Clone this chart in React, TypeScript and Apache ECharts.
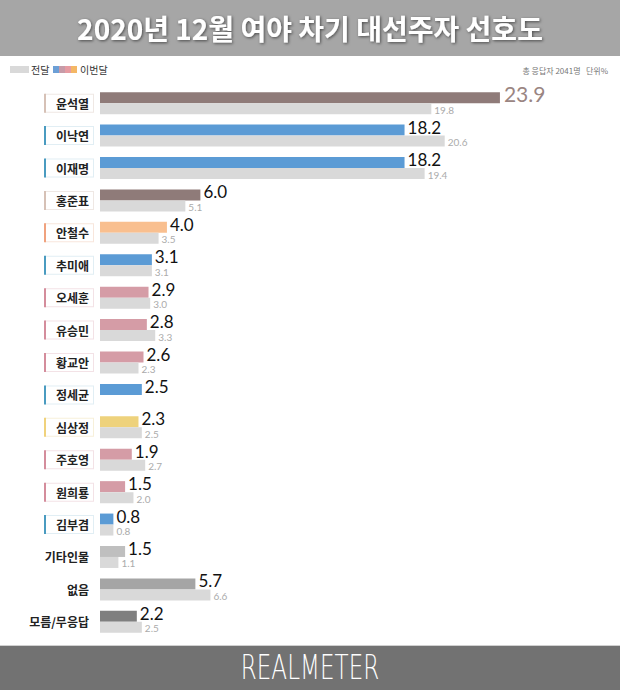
import React, { useEffect, useRef } from "react";
import * as echarts from "echarts";

const candidates = ["윤석열", "이낙연", "이재명", "홍준표", "안철수", "추미애", "오세훈", "유승민", "황교안", "정세균", "심상정", "주호영", "원희룡", "김부겸", "기타인물", "없음", "모름/무응답"];
const groups = ["ind", "dem", "dem", "ind", "peo", "dem", "ppp", "ppp", "ppp", "dem", "jus", "ppp", "ppp", "dem", "etc", "none", "dk"];
const thisMonth = [23.9, 18.2, 18.2, 6.0, 4.0, 3.1, 2.9, 2.8, 2.6, 2.5, 2.3, 1.9, 1.5, 0.8, 1.5, 5.7, 2.2];
const lastMonth: (number | null)[] = [19.8, 20.6, 19.4, 5.1, 3.5, 3.1, 3.0, 3.3, 2.3, null, 2.5, 2.7, 2.0, 0.8, 1.1, 6.6, 2.5];
const titleText = "2020년 12월 여야 차기 대선주자 선호도";
const legendPrev = "전달";
const legendCur = "이번달";
const noteText = "총 응답자 2041명   단위%";
const footerText = "REALMETER";

const barColors: Record<string, string> = {
  ind: "#8f7b79", dem: "#5b9bd5", peo: "#f9bf8f", ppp: "#d59ca6", jus: "#eed27c",
  etc: "#bfbfbf", none: "#a5a5a5", dk: "#7f7f7f",
};
const stripeColors: Record<string, string> = {
  ind: "#d6c1b6", dem: "#4a9bc0", peo: "#f0a27e", ppp: "#d48d9c", jus: "#f0d27c",
};
const boxBorders: Record<string, string> = {
  ind: "#efe8e4", dem: "#e1eef4", peo: "#f8e6dc", ppp: "#f3e2e6", jus: "#f7f0da",
};
const PREV_COLOR = "#d9d9d9";
const KFONT = "'Noto Sans CJK KR', 'Noto Sans', sans-serif";
const NFONT = "Lato, 'Noto Sans', sans-serif";

export default function App() {
  const ref = useRef<HTMLDivElement>(null);
  useEffect(() => {
    if (!ref.current) return;
    const chart = echarts.init(ref.current, null, { renderer: "svg" });

    const rich: Record<string, any> = {
      p: { fontFamily: KFONT, fontWeight: "bold", fontSize: 12, color: "#222", padding: [0, 4, 0, 0] },
    };
    candidates.forEach((_, i) => {
      const g = groups[i];
      if (stripeColors[g]) {
        rich["s" + i] = { width: 2, height: 19, backgroundColor: stripeColors[g] };
        rich["b" + i] = {
          width: 43, height: 17, align: "right", padding: [0, 4, 0, 0],
          backgroundColor: "#fff", borderColor: boxBorders[g], borderWidth: 1,
          fontFamily: KFONT, fontWeight: "bold", fontSize: 12, color: "#222",
        };
      }
    });

    const curData = thisMonth.map((v, i) => {
      const item: any = { value: v, itemStyle: { color: barColors[groups[i]] } };
      if (i === 0) {
        item.label = { fontSize: 21, color: "#9a8582", offset: [1, -4] };
      }
      return item;
    });

    chart.setOption({
      animation: false,
      backgroundColor: "#fff",
      grid: { left: 100, width: 502, top: 87, bottom: 52 },
      xAxis: { type: "value", min: 0, max: 30, show: false },
      yAxis: {
        type: "category",
        inverse: true,
        data: candidates,
        axisLine: { show: false },
        axisTick: { show: false },
        axisLabel: {
          margin: 7,
          rich,
          formatter: (val: string, i: number) =>
            stripeColors[groups[i]] ? `{s${i}|}{b${i}|${val}}` : `{p|${val}}`,
        },
      },
      series: [
        {
          name: legendCur,
          type: "bar",
          data: curData,
          barWidth: 11,
          barGap: "0%",
          label: {
            show: true, position: "right", distance: 3, offset: [0, -3],
            fontFamily: NFONT, fontSize: 17, color: "#111",
            formatter: (p: any) => Number(p.value).toFixed(1),
          },
        },
        {
          name: legendPrev,
          type: "bar",
          data: lastMonth,
          barWidth: 11,
          barGap: "0%",
          itemStyle: { color: PREV_COLOR },
          label: {
            show: true, position: "right", distance: 3, offset: [0, 1],
            fontFamily: NFONT, fontSize: 10, color: "#ababab",
            formatter: (p: any) => (p.value == null ? "" : Number(p.value).toFixed(1)),
          },
        },
      ],
      graphic: [
        { type: "rect", shape: { x: 0, y: 0, width: 620, height: 56 }, style: { fill: "#a6a6a6" } },
        {
          type: "text", x: 310, y: 28,
          style: {
            text: titleText, fill: "#fff", font: `bold 28px ${KFONT}`,
            align: "center", verticalAlign: "middle",
            textShadowColor: "rgba(0,0,0,0.55)", textShadowBlur: 3, textShadowOffsetX: 1, textShadowOffsetY: 1,
          },
        },
        { type: "rect", shape: { x: 10, y: 66, width: 19, height: 7 }, style: { fill: "#d9d9d9" } },
        { type: "text", x: 31, y: 69.5, style: { text: legendPrev, fill: "#333", font: `10px ${KFONT}`, verticalAlign: "middle" } },
        { type: "rect", shape: { x: 53, y: 66, width: 6, height: 7 }, style: { fill: "#6c9fd6" } },
        { type: "rect", shape: { x: 59, y: 66, width: 6, height: 7 }, style: { fill: "#c79ba8" } },
        { type: "rect", shape: { x: 65, y: 66, width: 6, height: 7 }, style: { fill: "#e69ba2" } },
        { type: "rect", shape: { x: 71, y: 66, width: 6, height: 7 }, style: { fill: "#f4b765" } },
        { type: "text", x: 80, y: 69.5, style: { text: legendCur, fill: "#333", font: `10px ${KFONT}`, verticalAlign: "middle" } },
        { type: "text", x: 608, y: 70, style: { text: noteText, fill: "#777", font: `8px ${KFONT}`, align: "right", verticalAlign: "middle" } },
        { type: "rect", shape: { x: 0, y: 646, width: 620, height: 44 }, style: { fill: "#727272" } },
        { type: "rect", shape: { x: 0, y: 645, width: 620, height: 1 }, style: { fill: "#d0d0d0" } },
        {
          type: "text", x: 310, y: 668, scaleX: 0.7,
          style: { text: footerText, fill: "#fff", font: `200 33px 'DejaVu Sans', sans-serif`, align: "center", verticalAlign: "middle" },
        },
      ],
    });
    return () => chart.dispose();
  }, []);
  return <div ref={ref} style={{ position: "absolute", left: 0, top: 0, width: 620, height: 690 }} />;
}
